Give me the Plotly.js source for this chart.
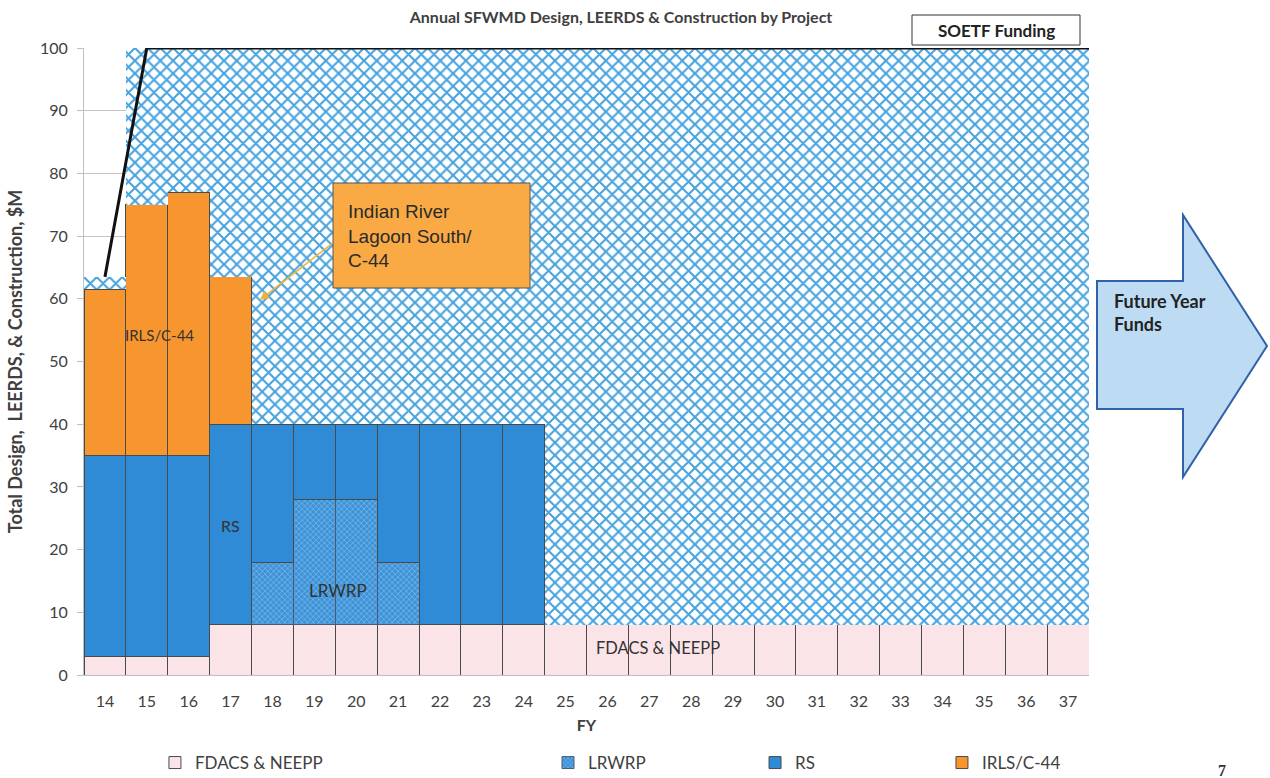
<!DOCTYPE html>
<html>
<head>
<meta charset="utf-8">
<script src="https://cdn.plot.ly/plotly-3.0.1.min.js"></script>
<style>html,body{margin:0;padding:0;background:#fff}#chart{width:1270px;height:778px}</style>
</head>
<body>
<div id="chart"></div>
<script>
const fiscalYears = [14,15,16,17,18,19,20,21,22,23,24,25,26,27,28,29,30,31,32,33,34,35,36,37];
const fdacsNeepp = [3,3,3,8,8,8,8,8,8,8,8,8,8,8,8,8,8,8,8,8,8,8,8,8];
const lrwrp      = [0,0,0,0,10,20,20,10,0,0,0,0,0,0,0,0,0,0,0,0,0,0,0,0];
const rs         = [32,32,32,32,22,12,12,22,32,32,32,0,0,0,0,0,0,0,0,0,0,0,0,0];
const irls       = [26.5,40,42,23.5,0,0,0,0,0,0,0,0,0,0,0,0,0,0,0,0,0,0,0,0];
const soetf      = [2,25,23,36.5,60,60,60,60,60,60,60,92,92,92,92,92,92,92,92,92,92,92,92,92];
const soetfLineX = [14, 15, 37.5];
const soetfLineY = [63.5, 100, 100];
const yTicks = [0,10,20,30,40,50,60,70,80,90,100];

const font = "Lato, 'Open Sans', sans-serif";
const txt = '#404040';
const edge = {color:'#4a4a4a', width:1};

const traces = [
  {type:'bar', name:'FDACS & NEEPP', x:fiscalYears, y:fdacsNeepp, legend:'legend',
   marker:{color:'#fbe4e7', line:edge}},
  {type:'bar', name:'LRWRP', x:fiscalYears, y:lrwrp, legend:'legend2',
   marker:{color:'#3e93d8', line:{color:'#4a5a70', width:1},
           pattern:{shape:'x', fgcolor:'#8fc4ee', bgcolor:'#3e93d8', size:4, solidity:0.25}}},
  {type:'bar', name:'RS', x:fiscalYears, y:rs, legend:'legend3',
   marker:{color:'#2f8bd6', line:edge}},
  {type:'bar', name:'IRLS/C-44', x:fiscalYears, y:irls, legend:'legend4',
   marker:{color:'#f7962f', line:edge}},
  {type:'bar', name:'SOETF Funding', x:fiscalYears, y:soetf, showlegend:false,
   marker:{color:'#ffffff', line:{width:0},
           pattern:{shape:'x', fgcolor:'#45a2dd', bgcolor:'#ffffff', size:9, solidity:0.4}}},
  {type:'scatter', mode:'lines', x:soetfLineX, y:soetfLineY, showlegend:false,
   line:{color:'#111111', width:3}}
];

const legendBase = {orientation:'h', yref:'container', yanchor:'middle', y:1-763/778, xanchor:'left',
  font:{family:font, size:17, color:txt}, bgcolor:'rgba(0,0,0,0)'};

const px = v => (v-84)/1005;
const py = v => (675-v)/627;

const layout = {
  width:1270, height:778,
  margin:{l:84, r:181, t:48, b:103},
  paper_bgcolor:'#ffffff', plot_bgcolor:'#ffffff',
  barmode:'stack', bargap:0,
  font:{family:font, color:txt},
  title:{text:'<b>Annual SFWMD Design, LEERDS & Construction by Project</b>',
         x:0.489, xanchor:'center', y:0.977, yanchor:'middle',
         font:{family:font, size:16, color:txt}},
  xaxis:{range:[13.5,37.5], tickmode:'array', tickvals:fiscalYears, ticktext:fiscalYears.map(String),
         showgrid:false, zeroline:false, showline:true, linecolor:'#bfbfbf', ticks:'', automargin:false,
         ticklabelstandoff:12,
         tickfont:{family:font, size:16, color:txt},
         title:{text:'<b>FY</b>', font:{family:font, size:16, color:txt}, standoff:10}},
  yaxis:{range:[0,100], tickmode:'array', tickvals:yTicks, showgrid:true, gridcolor:'#c4c4c4', automargin:false,
         zeroline:false, showline:true, linecolor:'#bfbfbf', ticks:'outside', ticklen:6, tickcolor:'#bfbfbf',
         ticklabelstandoff:6,
         tickfont:{family:font, size:16, color:txt},
         title:{text:'<b>Total Design,  LEERDS, & Construction, $M</b>', font:{family:font, size:18, color:txt}, standoff:12}},
  legend: Object.assign({}, legendBase, {x:0.0706}),
  legend2: Object.assign({}, legendBase, {x:0.4617}),
  legend3: Object.assign({}, legendBase, {x:0.6677}),
  legend4: Object.assign({}, legendBase, {x:0.8537}),
  shapes:[
    {type:'rect', xref:'paper', yref:'paper', x0:px(912), x1:px(1080), y0:py(45), y1:py(15),
     line:{color:'#333', width:1}, fillcolor:'#ffffff', layer:'above'},
    {type:'rect', xref:'paper', yref:'paper', x0:px(333), x1:px(530), y0:py(288), y1:py(183),
     line:{color:'#555', width:1}, fillcolor:'#f9aa45', layer:'above'},
    {type:'path', xref:'paper', yref:'paper', layer:'above',
     path:'M '+px(1097)+' '+py(281)+' L '+px(1183)+' '+py(281)+
          ' L '+px(1183)+' '+py(215)+' L '+px(1267)+' '+py(346)+
          ' L '+px(1183)+' '+py(477)+' L '+px(1183)+' '+py(409)+
          ' L '+px(1097)+' '+py(409)+' Z',
     fillcolor:'#bddcf3', line:{color:'#2f62a8', width:2}}
  ],
  annotations:[
    {xref:'paper', yref:'paper', x:px(996), y:py(30), xanchor:'center', yanchor:'middle', text:'<b>SOETF Funding</b>', showarrow:false,
     font:{family:font, size:17, color:'#222'}},
    {xref:'paper', yref:'paper', x:px(346), y:py(236), xanchor:'left', yanchor:'middle', align:'left',
     text:'Indian River<br>Lagoon South/<br>C-44', showarrow:false,
     font:{family:"'Liberation Sans', Arial, sans-serif", size:19, color:'#2a2a2a'}},
    {x:17.7, y:59.8, text:'', showarrow:true, ax:74, ay:-58, arrowcolor:'#f2b233', arrowwidth:1.5, arrowhead:2, arrowsize:1.2},
    {xref:'paper', yref:'paper', x:px(1112), y:py(312), xanchor:'left', yanchor:'middle', align:'left',
     text:'<b>Future Year<br>Funds</b>', showarrow:false, font:{family:font, size:18, color:'#222'}},
    {x:15.31, y:54.2, text:'IRLS/C-44', showarrow:false, font:{family:font, size:15, color:'#333'}},
    {x:16.99, y:23.9, text:'RS', showarrow:false, font:{family:font, size:16, color:'#333'}},
    {x:19.57, y:13.4, text:'LRWRP', showarrow:false, font:{family:font, size:17, color:'#333'}},
    {x:27.2, y:4.3, text:'FDACS & NEEPP', showarrow:false, font:{family:font, size:16.5, color:'#333'}},
    {xref:'paper', yref:'paper', x:px(1222), y:py(770), xanchor:'center', yanchor:'middle', text:'<b>7</b>', showarrow:false,
     font:{family:"'Liberation Serif', 'DejaVu Serif', serif", size:16, color:'#333'}}
  ]
};

Plotly.newPlot('chart', traces, layout, {displayModeBar:false, staticPlot:true});
</script>
</body>
</html>
